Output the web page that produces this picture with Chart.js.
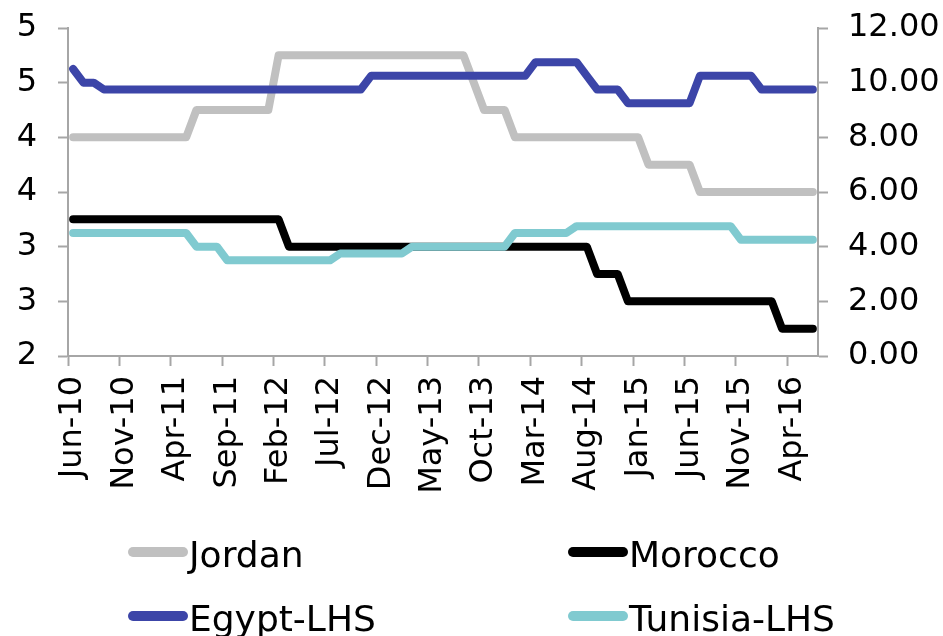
<!DOCTYPE html>
<html>
<head>
<meta charset="utf-8">
<script src="https://cdn.jsdelivr.net/npm/chart.js@4.4.0/dist/chart.umd.min.js"></script>
<style>
  html, body { margin: 0; padding: 0; background: #fff; }
</style>
</head>
<body>
<canvas id="rates-chart" width="943" height="636"></canvas>
<script>
// monthly, Jun-10 .. Jun-16
var months = [
  "Jun-10", "Jul-10", "Aug-10", "Sep-10", "Oct-10", "Nov-10", "Dec-10",
  "Jan-11", "Feb-11", "Mar-11", "Apr-11", "May-11", "Jun-11", "Jul-11", "Aug-11", "Sep-11", "Oct-11", "Nov-11", "Dec-11",
  "Jan-12", "Feb-12", "Mar-12", "Apr-12", "May-12", "Jun-12", "Jul-12", "Aug-12", "Sep-12", "Oct-12", "Nov-12", "Dec-12",
  "Jan-13", "Feb-13", "Mar-13", "Apr-13", "May-13", "Jun-13", "Jul-13", "Aug-13", "Sep-13", "Oct-13", "Nov-13", "Dec-13",
  "Jan-14", "Feb-14", "Mar-14", "Apr-14", "May-14", "Jun-14", "Jul-14", "Aug-14", "Sep-14", "Oct-14", "Nov-14", "Dec-14",
  "Jan-15", "Feb-15", "Mar-15", "Apr-15", "May-15", "Jun-15", "Jul-15", "Aug-15", "Sep-15", "Oct-15", "Nov-15", "Dec-15",
  "Jan-16", "Feb-16", "Mar-16", "Apr-16", "May-16", "Jun-16"
];

var jordan = [
  4, 4, 4, 4, 4, 4, 4,
  4, 4, 4, 4, 4, 4.25, 4.25, 4.25, 4.25, 4.25, 4.25, 4.25,
  4.25, 4.75, 4.75, 4.75, 4.75, 4.75, 4.75, 4.75, 4.75, 4.75, 4.75, 4.75,
  4.75, 4.75, 4.75, 4.75, 4.75, 4.75, 4.75, 4.75, 4.5, 4.25, 4.25, 4.25,
  4, 4, 4, 4, 4, 4, 4, 4, 4, 4, 4, 4,
  4, 3.75, 3.75, 3.75, 3.75, 3.75, 3.5, 3.5, 3.5, 3.5, 3.5, 3.5,
  3.5, 3.5, 3.5, 3.5, 3.5, 3.5
];

var morocco = [
  3.25, 3.25, 3.25, 3.25, 3.25, 3.25, 3.25,
  3.25, 3.25, 3.25, 3.25, 3.25, 3.25, 3.25, 3.25, 3.25, 3.25, 3.25, 3.25,
  3.25, 3.25, 3, 3, 3, 3, 3, 3, 3, 3, 3, 3,
  3, 3, 3, 3, 3, 3, 3, 3, 3, 3, 3, 3,
  3, 3, 3, 3, 3, 3, 3, 3, 2.75, 2.75, 2.75, 2.5,
  2.5, 2.5, 2.5, 2.5, 2.5, 2.5, 2.5, 2.5, 2.5, 2.5, 2.5, 2.5,
  2.5, 2.5, 2.25, 2.25, 2.25, 2.25
];

var egypt = [
  10.5, 10, 10, 9.75, 9.75, 9.75, 9.75,
  9.75, 9.75, 9.75, 9.75, 9.75, 9.75, 9.75, 9.75, 9.75, 9.75, 9.75, 9.75,
  9.75, 9.75, 9.75, 9.75, 9.75, 9.75, 9.75, 9.75, 9.75, 9.75, 10.25, 10.25,
  10.25, 10.25, 10.25, 10.25, 10.25, 10.25, 10.25, 10.25, 10.25, 10.25, 10.25, 10.25,
  10.25, 10.25, 10.75, 10.75, 10.75, 10.75, 10.75, 10.25, 9.75, 9.75, 9.75, 9.25,
  9.25, 9.25, 9.25, 9.25, 9.25, 9.25, 10.25, 10.25, 10.25, 10.25, 10.25, 10.25,
  9.75, 9.75, 9.75, 9.75, 9.75, 9.75
];

var tunisia = [
  4.5, 4.5, 4.5, 4.5, 4.5, 4.5, 4.5,
  4.5, 4.5, 4.5, 4.5, 4.5, 4, 4, 4, 3.5, 3.5, 3.5, 3.5,
  3.5, 3.5, 3.5, 3.5, 3.5, 3.5, 3.5, 3.75, 3.75, 3.75, 3.75, 3.75,
  3.75, 3.75, 4, 4, 4, 4, 4, 4, 4, 4, 4, 4,
  4.5, 4.5, 4.5, 4.5, 4.5, 4.5, 4.75, 4.75, 4.75, 4.75, 4.75, 4.75,
  4.75, 4.75, 4.75, 4.75, 4.75, 4.75, 4.75, 4.75, 4.75, 4.75, 4.25, 4.25,
  4.25, 4.25, 4.25, 4.25, 4.25, 4.25
];

var labelStep = 5;
var axisColor = "#a6a6a6";

Chart.defaults.font.family = "'DejaVu Sans', Verdana, sans-serif";
Chart.defaults.color = "#000";

// two-column legend under the axis labels
var legendGrid = {
  id: "legendGrid",
  afterDraw: function (chart) {
    var c = chart.ctx;
    var cols = [128, 568];
    var rows = [552, 616];
    chart.data.datasets.forEach(function (ds, i) {
      var x = cols[i % 2];
      var y = rows[Math.floor(i / 2)];
      c.save();
      c.strokeStyle = ds.borderColor;
      c.lineWidth = 10;
      c.lineCap = "round";
      c.beginPath();
      c.moveTo(x + 5, y);
      c.lineTo(x + 55, y);
      c.stroke();
      c.fillStyle = "#000";
      c.font = "36px 'DejaVu Sans'";
      c.textBaseline = "alphabetic";
      c.fillText(ds.label, x + 61, y + 15);
      c.restore();
    });
  }
};

// keep label overhang from pushing the plot area in
function fixSize(prop, size) {
  return function (s) {
    s[prop] = size;
    s.paddingTop = 0;
    s.paddingBottom = 0;
    s.paddingLeft = 0;
    s.paddingRight = 0;
  };
}

function line(label, data, color, axis, order) {
  return {
    label: label,
    data: data,
    yAxisID: axis,
    borderColor: color,
    backgroundColor: color,
    borderWidth: 8,
    borderCapStyle: "round",
    borderJoinStyle: "round",
    pointRadius: 0,
    tension: 0,
    fill: false,
    order: order
  };
}

var ctx = document.getElementById("rates-chart").getContext("2d");
new Chart(ctx, {
  type: "line",
  data: {
    labels: months,
    datasets: [
      line("Jordan", jordan, "#c0c0c0", "y", 2),
      line("Morocco", morocco, "#000000", "y", 2),
      line("Egypt-LHS", egypt, "#3c45a8", "y1", 1),
      line("Tunisia-LHS", tunisia, "#80cad0", "y1", 1)
    ]
  },
  options: {
    responsive: false,
    animation: false,
    layout: { padding: { top: 28, left: 0, right: 0, bottom: 0 } },
    plugins: {
      legend: { display: false },
      tooltip: { enabled: false }
    },
    scales: {
      x: {
        type: "category",
        offset: true,
        grid: {
          offset: true,
          drawOnChartArea: false,
          tickLength: 10,
          tickWidth: 2,
          tickColor: function (c) { return c.index % labelStep === 0 ? axisColor : "transparent"; }
        },
        border: { color: axisColor, width: 2 },
        ticks: {
          autoSkip: false,
          minRotation: 90,
          maxRotation: 90,
          padding: 10,
          font: { size: 32 },
          callback: function (v, i) { return i % labelStep === 0 ? this.getLabelForValue(v) : ""; }
        },
        afterFit: fixSize("height", 280)
      },
      y: {
        position: "left",
        min: 2,
        max: 5,
        grid: { drawOnChartArea: false, tickLength: 10, tickWidth: 2, tickColor: axisColor },
        border: { color: axisColor, width: 2 },
        ticks: {
          stepSize: 0.5,
          padding: 21,
          font: { size: 32 },
          callback: function (v) { return Math.round(v).toString(); }
        },
        afterFit: fixSize("width", 68)
      },
      y1: {
        position: "right",
        min: 0,
        max: 12,
        grid: { drawOnChartArea: false, tickLength: 10, tickWidth: 2, tickColor: axisColor },
        border: { color: axisColor, width: 2 },
        ticks: {
          stepSize: 2,
          padding: 20,
          font: { size: 32 },
          callback: function (v) { return v.toFixed(2); }
        },
        afterFit: fixSize("width", 125)
      }
    }
  },
  plugins: [legendGrid]
});
</script>
</body>
</html>
